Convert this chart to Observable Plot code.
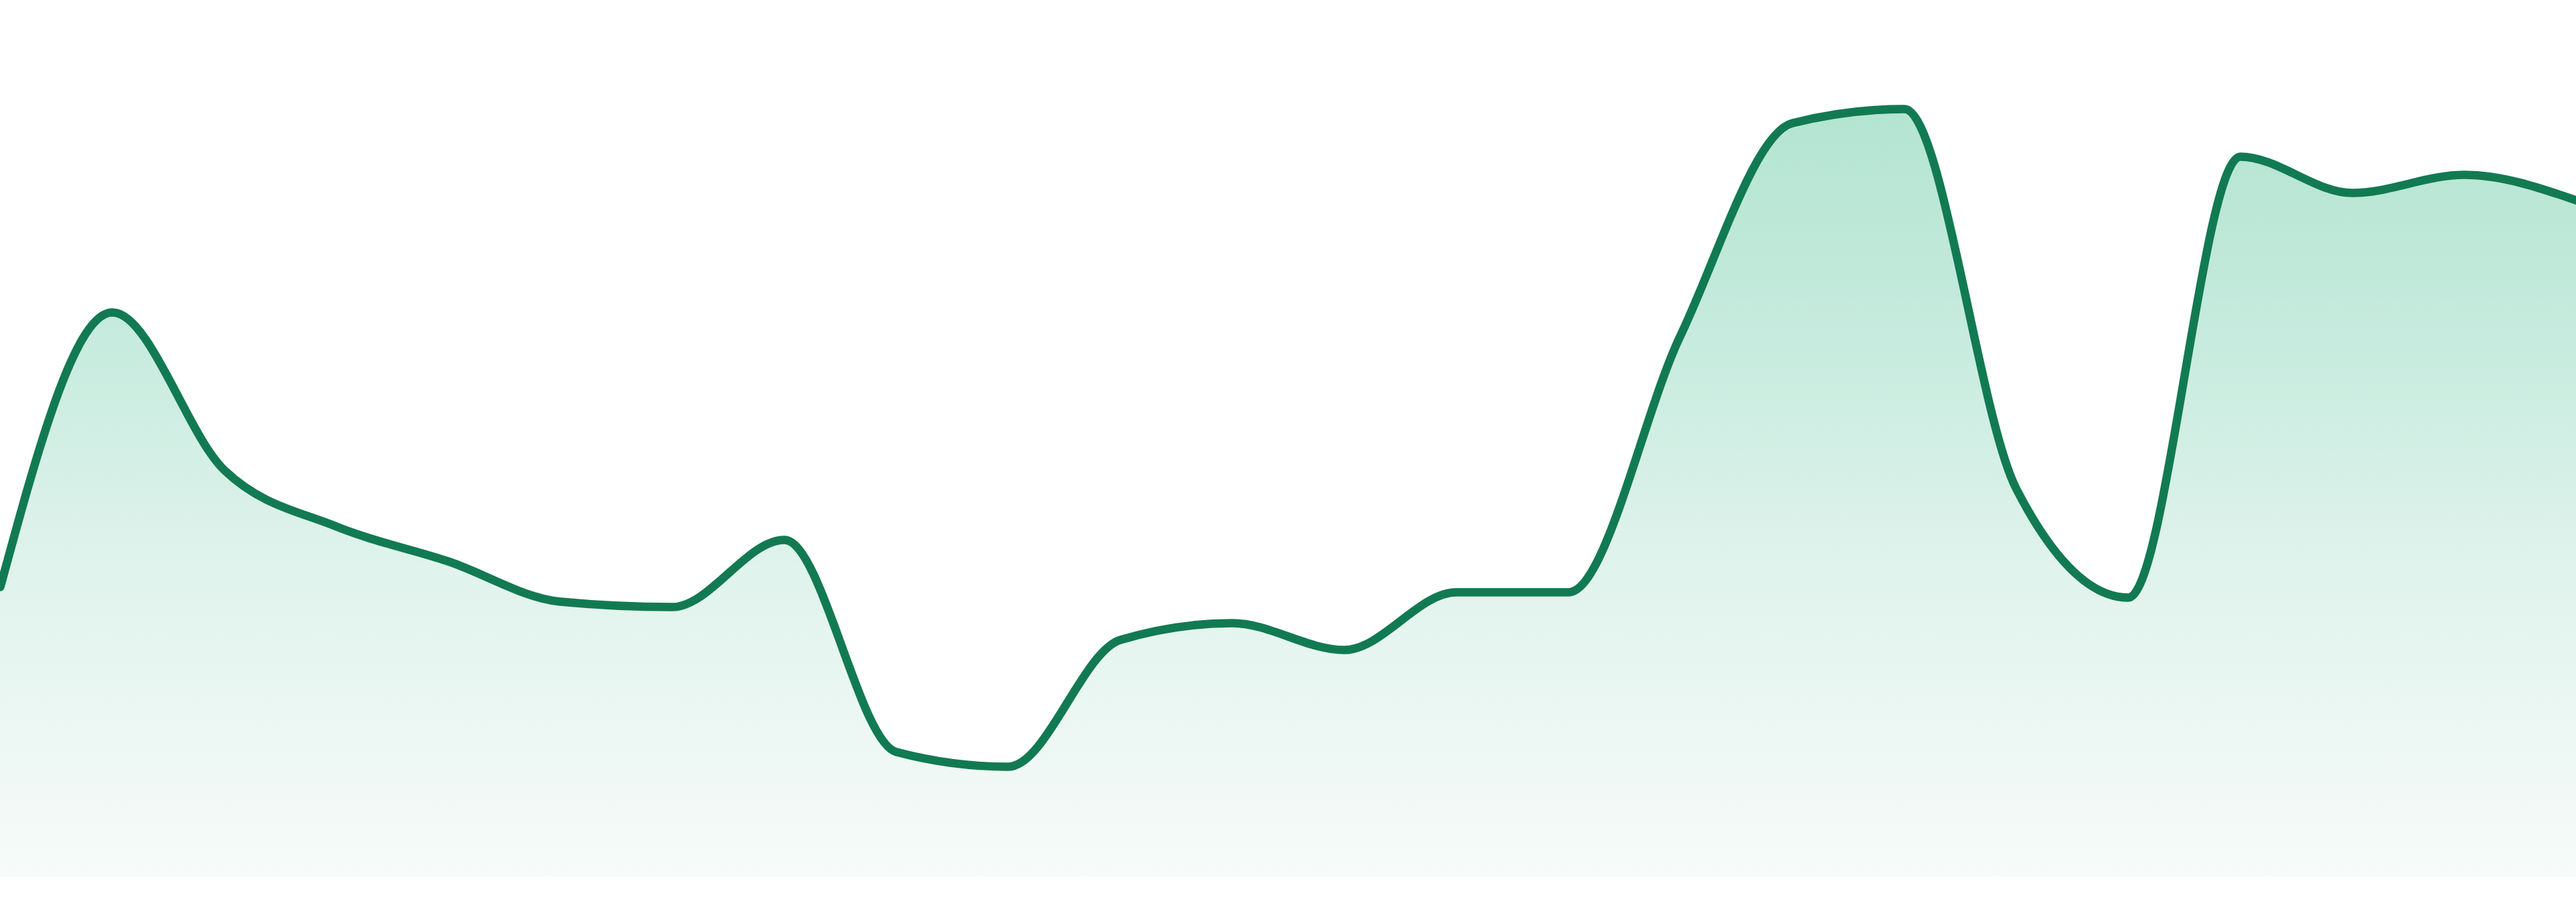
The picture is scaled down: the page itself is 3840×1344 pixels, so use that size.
<!DOCTYPE html>
<html>
<head>
<meta charset="utf-8">
<script src="https://cdn.jsdelivr.net/npm/d3@7"></script>
<script src="https://cdn.jsdelivr.net/npm/@observablehq/plot@0.6"></script>
<style>
  html, body { margin: 0; padding: 0; background: #ffffff; overflow: hidden; }
  #chart svg { display: block; }
</style>
</head>
<body>
<div id="chart"></div>
<script>
// Time slots (hour of day)
const hours = [0, 1, 2, 3, 4, 5, 6, 7, 8, 9, 10, 11, 12, 13, 14, 15, 16, 17, 18, 19, 20, 21, 22, 23];
// Series values
const values = [43.2, 84.1, 60.6, 52.2, 47.0, 41.0, 40.2, 50.2, 18.6, 16.4, 35.3, 37.8,
                33.8, 42.4, 42.4, 80.6, 112.3, 114.4, 57.8, 41.6, 107.3, 101.9, 104.6, 100.8];

const data = hours.map((h, i) => ({hour: h, value: values[i]}));

const lineColor = "#127a52";

const gradientDefs = () => {
  const ns = "http://www.w3.org/2000/svg";
  const defs = document.createElementNS(ns, "defs");
  const lg = document.createElementNS(ns, "linearGradient");
  lg.setAttribute("id", "areaFill");
  lg.setAttribute("x1", "0"); lg.setAttribute("y1", "0");
  lg.setAttribute("x2", "0"); lg.setAttribute("y2", "1");
  [["0", "#b4e4d2"], ["0.25", "#c3eadc"], ["0.6", "#e0f3ec"], ["1", "#f7fbf9"]].forEach(([o, c]) => {
    const s = document.createElementNS(ns, "stop");
    s.setAttribute("offset", o);
    s.setAttribute("stop-color", c);
    lg.appendChild(s);
  });
  defs.appendChild(lg);
  return defs;
};

const chart = Plot.plot({
  width: 3840,
  height: 1344,
  marginTop: 0,
  marginRight: 0,
  marginBottom: 38,
  marginLeft: 0,
  x: {domain: [0, 23], axis: null},
  y: {domain: [0, 130.6], axis: null},
  marks: [
    gradientDefs,
    Plot.areaY(data, {x: "hour", y: "value", curve: "monotone-x", fill: "url(#areaFill)"}),
    Plot.lineY(data, {x: "hour", y: "value", curve: "monotone-x", stroke: lineColor,
                      strokeWidth: 12.5, strokeLinejoin: "round", strokeLinecap: "round"})
  ]
});
chart.style.overflow = "visible";
document.getElementById("chart").appendChild(chart);
</script>
</body>
</html>
